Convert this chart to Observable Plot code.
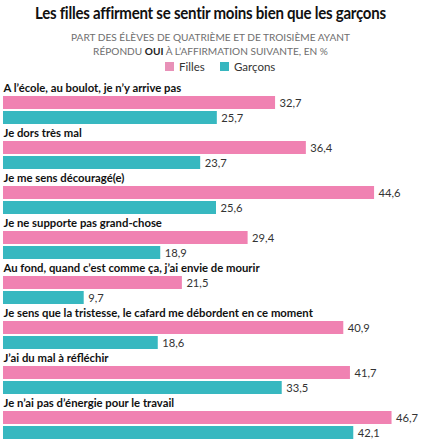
<!DOCTYPE html>
<html>
<head>
<meta charset="utf-8">
<script src="https://cdn.jsdelivr.net/npm/d3@7"></script>
<script src="https://cdn.jsdelivr.net/npm/@observablehq/plot@0.6"></script>
<style>
  html, body { margin: 0; padding: 0; background: #fff; }
  #wrap { width: 421px; font-family: Lato, "Open Sans", sans-serif; }
  #head { height: 80px; position: relative; }
  #title { position: absolute; top: 2px; left: 0; width: 421px; text-align: center; font-size: 17.5px; font-weight: 700; color: #111; letter-spacing: -0.3px; transform: scaleX(0.86); transform-origin: 210px 0; white-space: nowrap; }
  #sub { position: absolute; top: 30px; left: 0; width: 421px; text-align: center; font-size: 10.1px; line-height: 14px; color: #6e6e6e; }
  #sub b { color: #222; }
  .lg { position: absolute; top: 60px; font-size: 11.5px; color: #333; white-space: nowrap; }
  .sw { position: absolute; top: 62px; width: 9px; height: 9px; }
</style>
</head>
<body>
<div id="wrap">
  <div id="head">
    <div id="title">Les filles affirment se sentir moins bien que les garçons</div>
    <div id="sub">PART DES ÉLÈVES DE QUATRIÈME ET DE TROISIÈME AYANT<br>RÉPONDU <b>OUI</b> À L’AFFIRMATION SUIVANTE, EN %</div>
    <div class="sw" style="left:165px;background:#e891b8"></div><div class="lg" style="left:179px">Filles</div>
    <div class="sw" style="left:220px;background:#37b6bf"></div><div class="lg" style="left:234px">Garçons</div>
  </div>
  <div id="chart"></div>
</div>
<script>
const categories = [
  "A l’école, au boulot, je n’y arrive pas",
  "Je dors très mal",
  "Je me sens découragé(e)",
  "Je ne supporte pas grand-chose",
  "Au fond, quand c’est comme ça, j’ai envie de mourir",
  "Je sens que la tristesse, le cafard me débordent en ce moment",
  "J’ai du mal à réfléchir",
  "Je n’ai pas d’énergie pour le travail"
];
const filles = [32.7, 36.4, 44.6, 29.4, 21.5, 40.9, 41.7, 46.7];
const garcons = [25.7, 23.7, 25.6, 18.9, 9.7, 18.6, 33.5, 42.1];
const series = ["Filles", "Garçons"];
const colors = ["#f082b2", "#37b8c0"];

const rows = [];
const labels = [];
categories.forEach((c, i) => {
  labels.push({row: i + "L", label: c});
  rows.push({row: i + "F", serie: series[0], value: filles[i]});
  rows.push({row: i + "G", serie: series[1], value: garcons[i]});
});
const domain = categories.flatMap((c, i) => [i + "L", i + "F", i + "G"]);
const fmt = v => v.toFixed(1).replace(".", ",");

const chart = Plot.plot({
  width: 421,
  height: 367,
  marginTop: 0,
  marginBottom: 7,
  marginLeft: 3,
  marginRight: 2,
  x: {domain: [0, 50], axis: null},
  y: {domain, axis: null, paddingInner: 0.15, paddingOuter: 0.075},
  color: {domain: series, range: colors},
  style: {fontFamily: "Lato, 'Open Sans', sans-serif"},
  marks: [
    Plot.barX(rows, {x: "value", y: "row", fill: "serie"}),
    Plot.text(rows, {x: "value", y: "row", text: d => fmt(d.value), textAnchor: "start", dx: 4, fontSize: 11.2, fill: "#333"}),
    Plot.text(labels, {x: 0, y: "row", text: "label", textAnchor: "start", fontSize: 11.3, fontWeight: 700, fill: "#111"})
  ]
});
document.getElementById("chart").appendChild(chart);
</script>
</body>
</html>
